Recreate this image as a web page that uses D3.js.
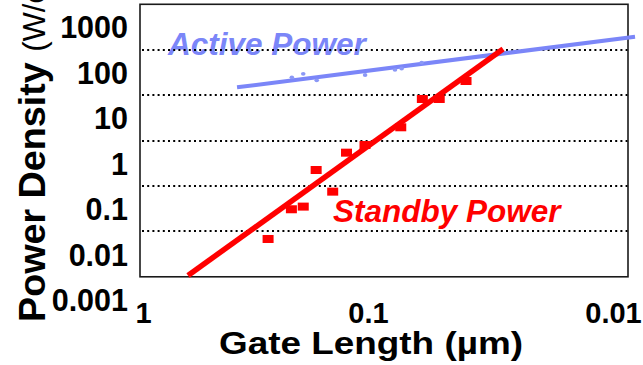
<!DOCTYPE html>
<html>
<head>
<meta charset="utf-8">
<script src="https://cdn.jsdelivr.net/npm/d3@7"></script>
<style>
  html, body { margin: 0; padding: 0; background: #fff; }
  svg { display: block; font-family: "Liberation Sans", Arial, Helvetica, sans-serif; }
</style>
</head>
<body>
<svg id="chart" width="643" height="365"></svg>
<script>
// Gate length axis (µm, decreasing to the right) and power density axis (W/cm², log)
const xTickValues = [1, 0.1, 0.01];
const xTickLabels = ["1", "0.1", "0.01"];
const yTickValues = [0.001, 0.01, 0.1, 1, 10, 100, 1000];
const yTickLabels = ["0.001", "0.01", "0.1", "1", "10", "100", "1000"];
// dotted reference lines sit half-way between the labelled decades
const gridValues = [316.2, 31.62, 3.162, 0.3162, 0.03162];

// Standby (leakage) power density per technology node
const standbyGateLength = [0.278, 0.219, 0.194, 0.170, 0.1435, 0.1246, 0.1031, 0.0735, 0.060, 0.0512, 0.0398];
const standbyPower      = [0.0215, 0.097, 0.111, 0.71, 0.237, 1.71, 2.52, 6.19, 26.0, 26.0, 64.7];

// Active power density per technology node
const activeGateLength = [0.218, 0.194, 0.169, 0.103, 0.0776, 0.0729, 0.0604];
const activePower      = [78.1, 93.2, 67.1, 87.8, 114, 122, 165];

// Trend lines (end points)
const standbyTrendLength = [0.631, 0.0281];
const standbyTrendPower  = [0.00338, 328];
const activeTrendLength  = [0.382, 0.00813];
const activeTrendPower   = [47.0, 611];

const svg = d3.select("#chart");

const x = d3.scaleLog().domain(xTickValues).range([143, 368, 613]);
const y = d3.scaleLog().domain([0.001, 1000]).range([299.5, 27]);

const frame = { left: 140, right: 628, top: y(Math.pow(10, 3.5)), bottom: y(Math.pow(10, -2.5)) };

const blue = "#7b86f8";
const red = "#ff0000";

// series annotations
svg.append("text")
  .attr("x", 168).attr("y", 55)
  .attr("font-size", 31.5).attr("font-weight", "bold").attr("font-style", "italic")
  .attr("fill", blue)
  .text("Active Power");

svg.append("text")
  .attr("x", 333).attr("y", 221.5)
  .attr("font-size", 31.5).attr("font-weight", "bold").attr("font-style", "italic")
  .attr("fill", red)
  .text("Standby Power");

// dotted horizontal grid
svg.append("g")
  .selectAll("line")
  .data(gridValues)
  .join("line")
  .attr("x1", frame.left + 2).attr("x2", frame.right)
  .attr("y1", d => Math.round(y(d))).attr("y2", d => Math.round(y(d)))
  .attr("stroke", "#000")
  .attr("stroke-width", 2)
  .attr("stroke-dasharray", "2 3.2");

// plot frame
svg.append("rect")
  .attr("x", frame.left).attr("y", frame.top)
  .attr("width", frame.right - frame.left)
  .attr("height", frame.bottom - frame.top)
  .attr("fill", "none")
  .attr("stroke", "#1a1a1a")
  .attr("stroke-width", 1.6);

const line = d3.line().x(d => x(d[0])).y(d => y(d[1]));

// active power trend
svg.append("path")
  .datum(d3.zip(activeTrendLength, activeTrendPower))
  .attr("d", line)
  .attr("fill", "none")
  .attr("stroke", blue)
  .attr("stroke-width", 4);

// active power points
svg.append("g")
  .selectAll("ellipse")
  .data(d3.zip(activeGateLength, activePower))
  .join("ellipse")
  .attr("cx", d => x(d[0])).attr("cy", d => y(d[1]))
  .attr("rx", 2.3).attr("ry", 1.9)
  .attr("fill", "#8b98f6");

// standby power points
const sqW = 11, sqH = 8;
svg.append("g")
  .selectAll("rect")
  .data(d3.zip(standbyGateLength, standbyPower))
  .join("rect")
  .attr("x", d => x(d[0]) - sqW / 2).attr("y", d => y(d[1]) - sqH / 2)
  .attr("width", sqW).attr("height", sqH)
  .attr("fill", red);

// standby power trend
svg.append("path")
  .datum(d3.zip(standbyTrendLength, standbyTrendPower))
  .attr("d", line)
  .attr("fill", "none")
  .attr("stroke", red)
  .attr("stroke-width", 5.5);

// y axis labels
const yAxis = d3.axisLeft(y)
  .tickValues(yTickValues)
  .tickFormat((d, i) => yTickLabels[i])
  .tickSize(0)
  .tickPadding(0);
const gy = svg.append("g").attr("transform", "translate(128,0)").call(yAxis);
gy.select(".domain").remove();
gy.selectAll("text")
  .attr("font-family", "'Liberation Sans', Arial, sans-serif")
  .attr("font-size", 30.5).attr("font-weight", "bold").attr("fill", "#000")
  .attr("dy", "0.36em");

// x axis labels
const xAxis = d3.axisBottom(x)
  .tickValues(xTickValues)
  .tickFormat((d, i) => xTickLabels[i])
  .tickSize(0)
  .tickPadding(0);
const gx = svg.append("g").attr("transform", "translate(0,323)").call(xAxis);
gx.select(".domain").remove();
gx.selectAll("text")
  .attr("font-family", "'Liberation Sans', Arial, sans-serif")
  .attr("font-size", 29).attr("font-weight", "bold").attr("fill", "#000")
  .attr("dy", 0);

// axis titles
svg.append("text")
  .attr("x", 219).attr("y", 354)
  .attr("font-size", 31).attr("font-weight", "bold")
  .attr("textLength", 304).attr("lengthAdjust", "spacingAndGlyphs")
  .text("Gate Length (\u00b5m)");

const yTitle = svg.append("text")
  .attr("transform", "translate(45,322) rotate(-90)")
  .attr("font-size", 37.7).attr("font-weight", "bold");
yTitle.append("tspan").text("Power Density ");
yTitle.append("tspan").attr("font-weight", "normal").attr("font-size", 31).text("(W/cm\u00b2)");
</script>
</body>
</html>
